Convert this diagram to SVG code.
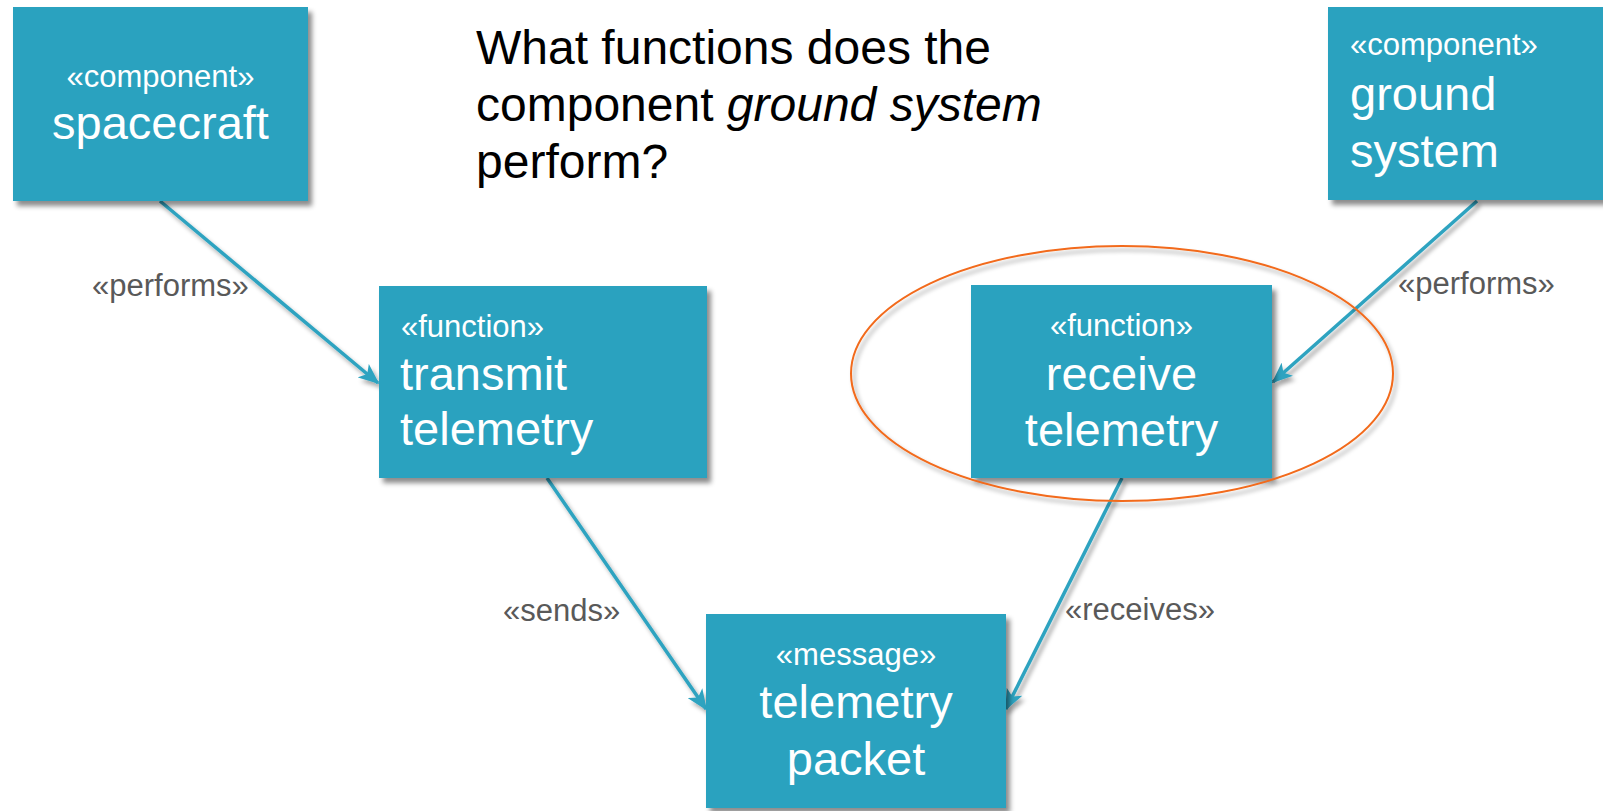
<svg xmlns="http://www.w3.org/2000/svg" width="1603" height="811" viewBox="0 0 1603 811">
<defs>
<style>
.box{fill:#2ca2bf;filter:url(#sh);}
.st{font-family:"Liberation Sans",Arial,sans-serif;font-size:31px;fill:#ffffff;}
.nm{font-family:"Liberation Sans",Arial,sans-serif;font-size:47px;fill:#ffffff;}
.lbl{font-family:"Liberation Sans",Arial,sans-serif;font-size:31px;fill:#595959;}
.title{font-family:"Liberation Sans",Arial,sans-serif;font-size:48px;fill:#000000;}
.con{stroke:#2ea3c0;stroke-width:3.5;fill:none;marker-end:url(#arr);}
</style>
<filter id="sh" x="-20%" y="-20%" width="140%" height="140%">
<feDropShadow dx="4" dy="5" stdDeviation="2.5" flood-color="#000" flood-opacity="0.45"/>
</filter>
<filter id="lsh" x="-20%" y="-20%" width="140%" height="140%">
<feDropShadow dx="3" dy="4" stdDeviation="2" flood-color="#000" flood-opacity="0.35"/>
</filter>
<marker id="arr" viewBox="0 0 12 10" refX="11" refY="5" markerWidth="6" markerHeight="5" markerUnits="strokeWidth" orient="auto">
<path d="M0,0 L12,5 L0,10 L3,5 Z" fill="#2ea3c0"/>
</marker>
</defs>
<rect width="1603" height="811" fill="#ffffff"/>

<g id="title">
<text class="title" x="476" y="64">What functions does the</text>
<text class="title" x="476" y="121">component <tspan font-style="italic">ground system</tspan></text>
<text class="title" x="476" y="178">perform?</text>
</g>

<g id="connectors" filter="url(#lsh)">
<line class="con" x1="160" y1="201" x2="378" y2="383"/>
<line class="con" x1="1477" y1="201" x2="1273" y2="382"/>
<line class="con" x1="547" y1="478" x2="706" y2="709"/>
<line class="con" x1="1122" y1="478" x2="1006" y2="709"/>
</g>

<g id="labels">
<text class="lbl" x="92" y="296">«performs»</text>
<text class="lbl" x="1398" y="294">«performs»</text>
<text class="lbl" x="503" y="621">«sends»</text>
<text class="lbl" x="1065" y="620">«receives»</text>
</g>

<g id="spacecraft">
<rect class="box" x="13" y="7" width="295" height="194"/>
<text class="st" x="160.5" y="87" text-anchor="middle">«component»</text>
<text class="nm" x="160.5" y="139" text-anchor="middle">spacecraft</text>
</g>

<g id="ground-system">
<rect class="box" x="1328" y="7" width="280" height="193"/>
<text class="st" x="1350" y="55">«component»</text>
<text class="nm" x="1350" y="110">ground</text>
<text class="nm" x="1350" y="167">system</text>
</g>

<g id="transmit-telemetry">
<rect class="box" x="379" y="286" width="328" height="192"/>
<text class="st" x="401" y="337">«function»</text>
<text class="nm" x="400" y="390">transmit</text>
<text class="nm" x="400" y="445">telemetry</text>
</g>

<g id="receive-telemetry">
<rect class="box" x="971" y="285" width="301" height="193"/>
<text class="st" x="1121.5" y="336" text-anchor="middle">«function»</text>
<text class="nm" x="1121.5" y="390" text-anchor="middle">receive</text>
<text class="nm" x="1121.5" y="446" text-anchor="middle">telemetry</text>
</g>

<g id="telemetry-packet">
<rect class="box" x="706" y="614" width="300" height="194"/>
<text class="st" x="856" y="665" text-anchor="middle">«message»</text>
<text class="nm" x="856" y="718" text-anchor="middle">telemetry</text>
<text class="nm" x="856" y="775" text-anchor="middle">packet</text>
</g>

<g id="highlight">
<ellipse cx="1122" cy="373.5" rx="271" ry="127.5" fill="none" stroke="#f26a1b" stroke-width="2" filter="url(#lsh)"/>
</g>
</svg>
